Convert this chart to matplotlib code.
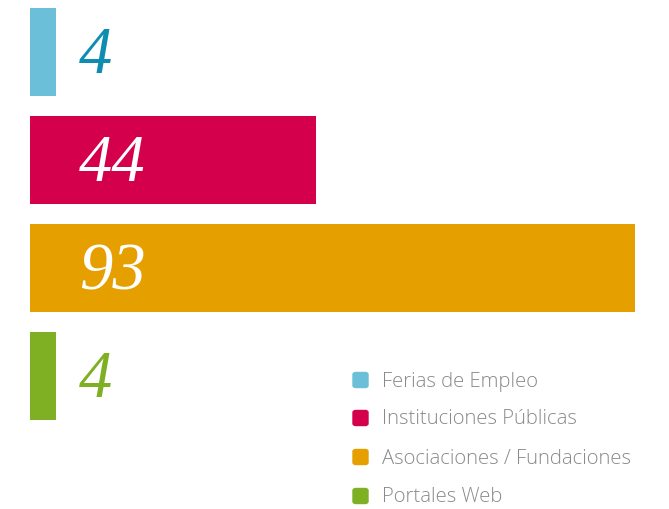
import matplotlib.pyplot as plt
from matplotlib.patches import FancyBboxPatch
from matplotlib import font_manager

categories = ["Ferias de Empleo", "Instituciones Públicas",
              "Asociaciones / Fundaciones", "Portales Web"]
values = [4, 44, 93, 4]
bar_colors = ["#6bbfd8", "#d4004b", "#e5a000", "#7fb024"]
label_colors = ["#0e8db0", "white", "white", "#7fb024"]

W, H = 669, 509
fig = plt.figure(figsize=(W / 100, H / 100), dpi=100)
ax = fig.add_axes([30 / W, 79.2 / H, 605 / W, 429.8 / H])

pos = range(len(values))
ax.barh(pos, values, height=88 / 108, color=bar_colors)
ax.set_xlim(0, 93)
ax.set_ylim(3.5, -0.48)
ax.axis("off")

num_font = font_manager.FontProperties(family=["Liberation Serif"], style="italic", size=48)

for i, v in enumerate(values):
    ax.text(7.5, i + 0.2, str(v), color=label_colors[i], fontproperties=num_font,
            ha="left", va="baseline")

# legend
rows = [380, 418, 457, 496]
for cat, col, y in zip(categories, bar_colors, rows):
    fig.patches.append(FancyBboxPatch(
        (353 / W, (H - y - 7.5) / H), 15 / W, 15 / H,
        boxstyle="round,pad=0,rounding_size=0.004",
        transform=fig.transFigure, color=col))
    fig.text(382 / W, (H - y - 1.5) / H, cat, color="#8a8a8a", fontsize=14.6,
             family="Open Sans", weight="light", va="center", ha="left")

fig.savefig("out.png", dpi=100)
